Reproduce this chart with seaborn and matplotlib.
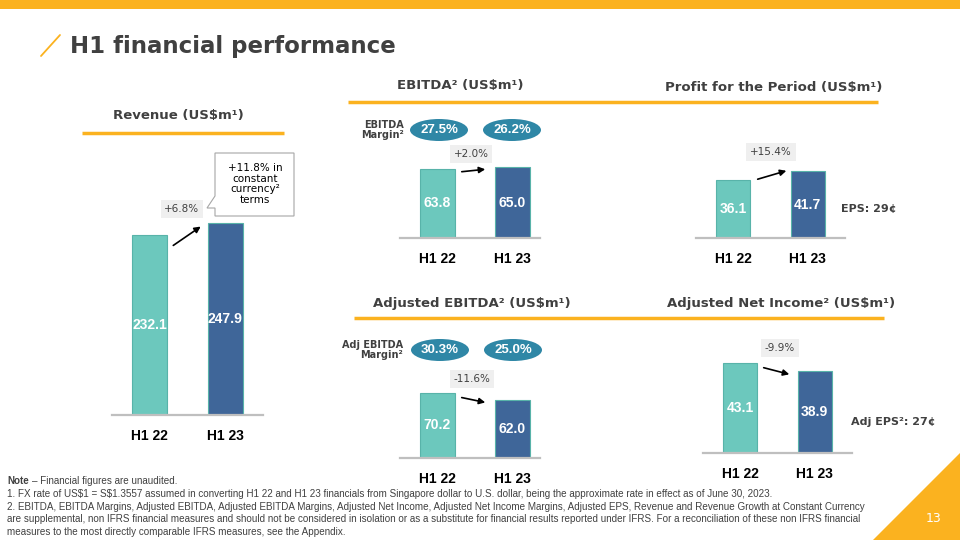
import matplotlib
matplotlib.use("Agg")
import matplotlib.pyplot as plt
import seaborn as sns
from matplotlib.patches import Ellipse, Polygon, Rectangle

sns.set_style("white")
plt.rcParams['font.family'] = ['DejaVu Sans']

# data
periods = ["H1 22", "H1 23"]
revenue = [232.1, 247.9]
ebitda = [63.8, 65.0]
profit = [36.1, 41.7]
adj_ebitda = [70.2, 62.0]
adj_net_income = [43.1, 38.9]
ebitda_margin = ["27.5%", "26.2%"]
adj_ebitda_margin = ["30.3%", "25.0%"]
changes = ["+6.8%", "+2.0%", "+15.4%", "-11.6%", "-9.9%"]

TEAL = "#6cc8bd"
BLUE = "#3f6699"
ORANGE = "#fbb21f"
DARK = "#404040"
OVAL = "#2f87a6"
BOLDNUM = ["Liberation Sans", "DejaVu Sans"]

W, H = 960, 540
fig = plt.figure(figsize=(9.6, 5.4), dpi=100)

# overlay axes in pixel coordinates for slide decoration
ov = fig.add_axes([0, 0, 1, 1])
ov.set_xlim(0, W)
ov.set_ylim(H, 0)
ov.axis("off")

ov.add_patch(Rectangle((0, 0), W, 9, color=ORANGE, lw=0))
ov.add_patch(Polygon([(873, 540), (960, 540), (960, 453)], closed=True, color=ORANGE, lw=0))
ov.text(934, 518, "13", color="white", fontsize=9, ha="center", va="center")
ov.plot([41, 60], [56, 35], color=ORANGE, lw=1.3)
ov.text(70, 46, "H1 financial performance", fontsize=16.5, fontweight="bold",
        color=DARK, ha="left", va="center")

# section headings + orange rules
heads = [
    ("Revenue (US$m¹)", 178, 116),
    ("EBITDA² (US$m¹)", 460, 85),
    ("Profit for the Period (US$m¹)", 774, 87),
    ("Adjusted EBITDA² (US$m¹)", 472, 304),
    ("Adjusted Net Income² (US$m¹)", 781, 304),
]
for txt, x, y in heads:
    ov.text(x, y, txt, fontsize=9.5, fontweight="bold", color=DARK, ha="center", va="center")
ov.plot([82, 284], [133, 133], color=ORANGE, lw=2.5, solid_capstyle="butt")
ov.plot([348, 878], [102, 102], color=ORANGE, lw=2.5, solid_capstyle="butt")
ov.plot([354, 884], [318, 318], color=ORANGE, lw=2.5, solid_capstyle="butt")


def panel(vals, left, right, base, top, ymax, xlim):
    # axes placed in pixel coordinates of the slide
    ax = fig.add_axes([left / W, 1 - base / H, (right - left) / W, (base - top) / H])
    ax.patch.set_alpha(0)
    sns.barplot(x=periods, y=vals, hue=periods, palette=[TEAL, BLUE], legend=False,
                width=0.46, saturation=1, ax=ax, edgecolor=["#58b3a9", "#365a8a"], linewidth=0.8)
    ax.set_ylim(0, ymax)
    ax.set_xlim(*xlim)
    for s in ["top", "left", "right"]:
        ax.spines[s].set_visible(False)
    ax.spines["bottom"].set_color("#bfbfbf")
    ax.spines["bottom"].set_linewidth(1.6)
    ax.set_yticks([])
    ax.set_xlabel("")
    ax.set_ylabel("")
    ax.tick_params(axis="x", length=0, pad=10)
    ax.set_xticks([0, 1])
    ax.set_xticklabels(periods, fontsize=10, fontweight="bold", color="black", family=BOLDNUM)
    for i, v in enumerate(vals):
        ax.text(i, v / 2, f"{v:.1f}", color="white", fontsize=10, fontweight="bold",
                ha="center", va="center", family=BOLDNUM)
    return ax


panel(revenue, 112, 263, 415, 140, 355, (-0.5, 1.5))
panel(ebitda, 400, 540, 238, 150, 81, (-0.5, 1.37))
panel(profit, 696, 845, 238, 150, 55, (-0.5, 1.5))
panel(adj_ebitda, 400, 540, 458, 370, 94.6, (-0.5, 1.37))
panel(adj_net_income, 703, 852, 453, 360, 44.3, (-0.5, 1.5))

# change boxes and arrows
chg = [
    (changes[0], 182, 209, (171, 247), (203, 225)),
    (changes[1], 471, 154, (459, 172), (488, 169)),
    (changes[2], 771, 152, (755, 180), (789, 170)),
    (changes[3], 472, 379, (459, 397), (488, 403)),
    (changes[4], 780, 348, (761, 367), (792, 375)),
]
for txt, cx, cy, p0, p1 in chg:
    ov.text(cx, cy, txt, fontsize=7.5, color=DARK, ha="center", va="center",
            bbox=dict(boxstyle="square,pad=0.35", fc="#efefef", ec="none"))
    ov.annotate("", xy=p1, xytext=p0,
                arrowprops=dict(arrowstyle="-|>", color="black", lw=1.2, mutation_scale=9))

# constant currency callout
ov.add_patch(Polygon([(215, 153), (294, 153), (294, 216), (215, 216), (215, 208),
                      (207, 208), (215, 196)], closed=True, fc="white", ec="#a6a6a6", lw=0.8))
ov.text(255, 184, "+11.8% in\nconstant\ncurrency²\nterms", fontsize=7.5, color="black",
        ha="center", va="center", linespacing=1.05)

# margin ovals
for (txt, cx, cy) in [(ebitda_margin[0], 439, 130), (ebitda_margin[1], 512, 130),
                      (adj_ebitda_margin[0], 440, 350), (adj_ebitda_margin[1], 513, 350)]:
    ov.add_patch(Ellipse((cx, cy), 58, 22, fc=OVAL, ec="none"))
    ov.text(cx, cy, txt, color="white", fontsize=9.5, fontweight="bold",
            ha="center", va="center", family=BOLDNUM)
ov.text(404, 130, "EBITDA\nMargin²", fontsize=7, fontweight="bold", color=DARK,
        ha="right", va="center", linespacing=1.1)
ov.text(403, 350, "Adj EBITDA\nMargin²", fontsize=7, fontweight="bold", color=DARK,
        ha="right", va="center", linespacing=1.1)

ov.text(841, 209, "EPS: 29¢", fontsize=8, fontweight="bold", color=DARK, ha="left", va="center")
ov.text(851, 422, "Adj EPS²: 27¢", fontsize=8, fontweight="bold", color=DARK, ha="left", va="center")

# footnotes
notes = [
    r"1. FX rate of US\$1 = S\$1.3557 assumed in converting H1 22 and H1 23 financials from Singapore dollar to U.S. dollar, being the approximate rate in effect as of June 30, 2023.",
    "2. EBITDA, EBITDA Margins, Adjusted EBITDA, Adjusted EBITDA Margins, Adjusted Net Income, Adjusted Net Income Margins, Adjusted EPS, Revenue and Revenue Growth at Constant Currency",
    "are supplemental, non IFRS financial measures and should not be considered in isolation or as a substitute for financial results reported under IFRS. For a reconciliation of these non IFRS financial",
    "measures to the most directly comparable IFRS measures, see the Appendix.",
]
ov.text(7, 481, "Note", fontsize=7.1, fontweight="bold", color=DARK, ha="left", va="center",
        family=BOLDNUM)
ov.text(32, 481, "– Financial figures are unaudited.", fontsize=7.1, color=DARK, ha="left",
        va="center", family=BOLDNUM)
for i, line in enumerate(notes):
    ov.text(7, 494 + i * 12.6, line, fontsize=7.1, color=DARK, ha="left", va="center",
            family=BOLDNUM)

fig.savefig("out.png", dpi=100)
